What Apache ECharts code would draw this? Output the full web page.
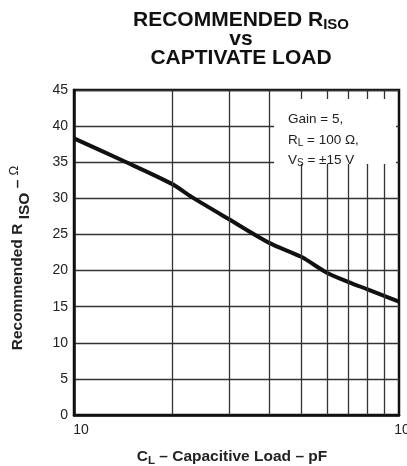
<!DOCTYPE html>
<html>
<head>
<meta charset="utf-8">
<script src="https://cdn.jsdelivr.net/npm/echarts@6/dist/echarts.min.js"></script>
<style>
html,body{margin:0;padding:0;background:#fff;}
#chart{width:407px;height:466px;}
</style>
</head>
<body>
<div id="chart"></div>
<script>
// Data
const capacitancePF = [10, 14, 20, 23, 30, 40, 50, 60, 70, 80, 90, 100];
const recommendedRiso = [38.3, 35.3, 32.0, 30.2, 27.1, 23.8, 21.9, 19.7, 18.4, 17.4, 16.5, 15.7];
const verticalGridCaps = [20, 30, 40, 50, 60, 70, 80, 90];
const yMin = 0, yMax = 45, yStep = 5;
const xMin = 10, xMax = 100;

const FONT = '"Liberation Sans", Arial, Helvetica, sans-serif';
const chart = echarts.init(document.getElementById('chart'), null, {renderer: 'canvas'});

const seriesData = capacitancePF.map((c, i) => [c, recommendedRiso[i]]);

chart.setOption({
  animation: false,
  backgroundColor: '#fff',
  grid: {left: 74, right: 8, top: 90, bottom: 51, show: true, borderColor: '#111', borderWidth: 2.5,
         backgroundColor: 'transparent', containLabel: false, outerBoundsMode: 'none'},
  xAxis: {
    type: 'log', logBase: 10, min: xMin, max: xMax,
    axisLine: {show: true, lineStyle: {color: '#111', width: 2.5}},
    axisTick: {show: false},
    splitLine: {show: false},
    minorTick: {show: false},
    axisLabel: {color: '#222', fontFamily: FONT, fontSize: 14, margin: 8, padding: [0, 0, 0, 14]}
  },
  yAxis: {
    type: 'value', min: yMin, max: yMax, interval: yStep,
    axisLine: {show: true, lineStyle: {color: '#111', width: 2.5}},
    axisTick: {show: false},
    splitLine: {show: true, lineStyle: {color: '#333', width: 1.3}},
    axisLabel: {color: '#222', fontFamily: FONT, fontSize: 14, margin: 6}
  },
  series: [{
    type: 'line',
    data: seriesData,
    smooth: 0.3,
    symbol: 'none',
    lineStyle: {color: '#111', width: 4},
    z: 2,
    markLine: {
      silent: true,
      symbol: 'none',
      label: {show: false},
      lineStyle: {color: '#333', width: 1.3, type: 'solid'},
      data: verticalGridCaps.map(v => ({xAxis: v}))
    }
  }],
  graphic: [
    {type: 'rect', z: 20, shape: {x: 274, y: 99, width: 122, height: 65}, style: {fill: '#fff'}},
    {type: 'text', z: 21, x: 288, y: 119, style: {text: 'Gain = 5,', fontFamily: FONT, fontSize: 13.5, fill: '#222', verticalAlign: 'middle'}},
    {type: 'text', z: 21, x: 288, y: 140, style: {text: '{t|R}{s|L}{t| = 100 Ω,}', verticalAlign: 'middle', rich: {
      t: {fontFamily: FONT, fontSize: 13.5, fill: '#222'},
      s: {fontFamily: FONT, fontSize: 10, fill: '#222', padding: [7, 0, 0, 0]}}}},
    {type: 'text', z: 21, x: 288, y: 160, style: {text: '{t|V}{s|S}{t| = ±15 V}', verticalAlign: 'middle', rich: {
      t: {fontFamily: FONT, fontSize: 13.5, fill: '#222'},
      s: {fontFamily: FONT, fontSize: 10, fill: '#222', padding: [7, 0, 0, 0]}}}},
    // title
    {type: 'text', x: 241, y: 20, style: {text: '{t|RECOMMENDED R}{s|ISO}', align: 'center', verticalAlign: 'middle', rich: {
      t: {fontFamily: FONT, fontSize: 21, fontWeight: 'bold', fill: '#111'},
      s: {fontFamily: FONT, fontSize: 15, fontWeight: 'bold', fill: '#111', padding: [9, 0, 0, 0]}}}},
    {type: 'text', x: 241, y: 39, style: {text: 'vs', align: 'center', verticalAlign: 'middle', fontFamily: FONT, fontSize: 21, fontWeight: 'bold', fill: '#111'}},
    {type: 'text', x: 241, y: 58, style: {text: 'CAPTIVATE LOAD', align: 'center', verticalAlign: 'middle', fontFamily: FONT, fontSize: 21, fontWeight: 'bold', fill: '#111'}},
    // y axis name
    {type: 'text', x: 18, y: 258, rotation: Math.PI / 2, style: {text: '{t|Recommended R }{s|ISO}{t| – }{o|Ω}', align: 'center', verticalAlign: 'middle', rich: {
      t: {fontFamily: FONT, fontSize: 15.5, fontWeight: 'bold', fill: '#222'},
      s: {fontFamily: FONT, fontSize: 15.5, fontWeight: 'bold', fill: '#222', padding: [13, 0, 0, 0]},
      o: {fontFamily: FONT, fontSize: 13, fill: '#222', padding: [0, 0, 7, 0]}}}},
    // x axis name
    {type: 'text', x: 232, y: 457, style: {text: '{t|C}{s|L}{t| – Capacitive Load – pF}', align: 'center', verticalAlign: 'middle', rich: {
      t: {fontFamily: FONT, fontSize: 15.5, fontWeight: 'bold', fill: '#222'},
      s: {fontFamily: FONT, fontSize: 11.5, fontWeight: 'bold', fill: '#222', padding: [8, 0, 0, 0]}}}}
  ]
});
</script>
</body>
</html>
